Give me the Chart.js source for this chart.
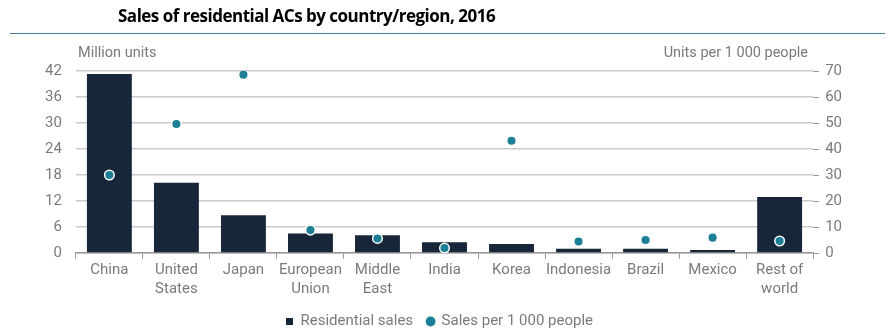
<!DOCTYPE html>
<html>
<head>
<meta charset="utf-8">
<script src="https://cdn.jsdelivr.net/npm/chart.js@4"></script>
<style>
  body { margin: 0; background: #fff; }
  #wrap { position: relative; width: 895px; height: 335px; }
  #title { position: absolute; left: 118px; top: 4px; font: bold 17px "Open Sans", sans-serif; color: #000; letter-spacing: -0.5px; }
  #rule { position: absolute; left: 10px; width: 875px; top: 33px; height: 0; border-top: 1.5px solid #4d7c98; }
</style>
</head>
<body>
<div id="wrap">
  <div id="title">Sales of residential ACs by country/region, 2016</div>
  <div id="rule"></div>
  <canvas id="myChart" width="895" height="335"></canvas>
</div>
<script>
// chart data
const categories = [
  "China", ["United", "States"], "Japan", ["European", "Union"], ["Middle", "East"],
  "India", "Korea", "Indonesia", "Brazil", "Mexico", ["Rest of", "world"]
]
const residentialSales = [41.3, 16.2, 8.7, 4.5, 4.1, 2.5, 2.1, 1.0, 1.0, 0.7, 12.9]
const salesPer1000 = [30, 49.6, 68.6, 8.8, 5.6, 1.9, 43.2, 4.4, 5.0, 5.9, 4.6]
const leftTicks = [0, 6, 12, 18, 24, 30, 36, 42]
const rightTicks = [0, 10, 20, 30, 40, 50, 60, 70]

const fontFamily = "Roboto, 'Liberation Sans', Arial, sans-serif"
const tickFont = { family: fontFamily, size: 15, lineHeight: 1.3 }
const grey = "#7a7a7a"

const axisTitles = {
    id: "axisTitles",
    afterDraw(chart) {
        const ctx = chart.ctx
        ctx.save()
        ctx.font = "14.5px " + fontFamily
        ctx.fillStyle = grey
        ctx.textBaseline = "middle"
        ctx.textAlign = "left"
        ctx.fillText("Million units", 78, 53)
        ctx.textAlign = "right"
        ctx.fillText("Units per 1 000 people", 808, 53)
        ctx.restore()
    }
}

new Chart("myChart", {
    data: {
        labels: categories,
        datasets: [
            {
                type: "scatter",
                label: "Sales per 1 000 people",
                data: salesPer1000,
                yAxisID: "y2",
                backgroundColor: "#1b7f96",
                borderColor: "#ffffff",
                borderWidth: 1.5,
                pointRadius: 4.8,
                pointStyle: "circle",
                order: 0
            },
            {
                type: "bar",
                label: "Residential sales",
                data: residentialSales,
                yAxisID: "y",
                backgroundColor: "#172638",
                barPercentage: 0.67,
                categoryPercentage: 1,
                order: 1
            }
        ]
    },
    options: {
        responsive: false,
        animation: false,
        layout: { padding: { left: 31, right: 47, top: 71, bottom: -4 } },
        scales: {
            x: {
                type: "category",
                offset: true,
                grid: { display: true, drawOnChartArea: false, offset: true, tickLength: 6, color: "#9a9a9a" },
                border: { color: "#9a9a9a", width: 1.5 },
                ticks: { color: grey, font: tickFont, maxRotation: 0, autoSkip: false, padding: 1 }
            },
            y: {
                position: "left",
                min: 0, max: 42,
                afterBuildTicks: axis => { axis.ticks = leftTicks.map(v => ({ value: v })) },
                grid: { color: "#cacaca", lineWidth: 1.5, drawTicks: false },
                border: { display: false },
                ticks: { color: grey, font: tickFont, padding: 14 }
            },
            y2: {
                position: "right",
                min: 0, max: 70,
                afterBuildTicks: axis => { axis.ticks = rightTicks.map(v => ({ value: v })) },
                grid: { drawOnChartArea: false, tickLength: 6, color: "#9a9a9a" },
                border: { display: false },
                ticks: { color: grey, font: tickFont, padding: 6 }
            }
        },
        plugins: {
            legend: {
                position: "bottom",
                reverse: true,
                labels: {
                    color: grey,
                    font: { family: fontFamily, size: 15 },
                    boxWidth: 7,
                    boxHeight: 7,
                    usePointStyle: true,
                    padding: 14,
                    generateLabels: chart => chart.data.datasets.map((ds, i) => ({
                        text: ds.label,
                        fillStyle: ds.backgroundColor,
                        strokeStyle: ds.backgroundColor,
                        lineWidth: 0,
                        pointStyle: ds.type === "bar" ? "rect" : "circle",
                        fontColor: grey,
                        datasetIndex: i
                    }))
                }
            },
            tooltip: { enabled: false }
        }
    },
    plugins: [axisTitles]
})
</script>
</body>
</html>
